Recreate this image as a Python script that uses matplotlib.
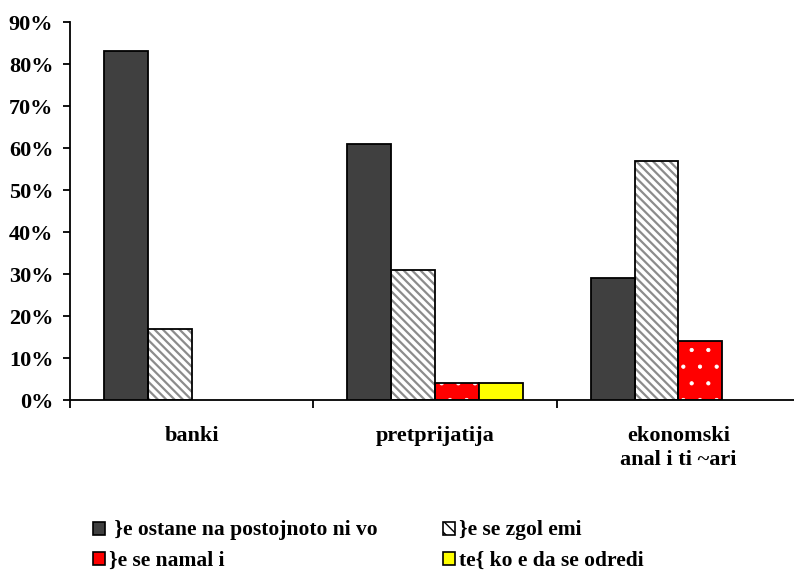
import numpy as np
import matplotlib as mpl
import matplotlib.pyplot as plt
from matplotlib.patches import Rectangle

kategorii = ['banki', 'pretprijatija', 'ekonomski\nanal i ti ~ari']
serii = [' }e ostane na postojnoto ni vo', '}e se zgol emi', '}e se namal i', 'te{ ko e da se odredi']
ostane = [83, 61, 29]
zgolemi = [17, 31, 57]
namali = [0, 4, 14]
tesko = [0, 4, 0]

plt.rcParams['font.family'] = ['Liberation Serif', 'DejaVu Serif']
plt.rcParams['font.weight'] = 'bold'

W, H = 794, 572
fig = plt.figure(figsize=(W / 100, H / 100), dpi=100)
ax = fig.add_axes([70 / W, 1 - 400 / H, 730 / W, 378 / H])

w = 0.18
x = np.arange(len(kategorii)) + 0.5
vrednosti = [ostane, zgolemi, namali, tesko]
stilovi = [
    dict(color='#404040', hatch=None, hcol=None, hlw=1),
    dict(color='white', hatch='\\\\\\\\', hcol='#8c8c8c', hlw=1.6),
    dict(color='#ff0000', hatch='.', hcol='white', hlw=0.6),
    dict(color='#ffff00', hatch=None, hcol=None, hlw=1),
]
for i, (vals, st) in enumerate(zip(vrednosti, stilovi)):
    pos = x + (i - 1.5) * w
    vals = np.array(vals)
    m = vals > 0
    if st['hatch']:
        with mpl.rc_context({'hatch.linewidth': st['hlw']}):
            ax.bar(pos[m], vals[m], w, color=st['color'], edgecolor=st['hcol'],
                   hatch=st['hatch'], linewidth=0, zorder=2)
        ax.bar(pos[m], vals[m], w, fill=False, edgecolor='black', linewidth=1.3, zorder=3)
    else:
        ax.bar(pos[m], vals[m], w, color=st['color'], edgecolor='black', linewidth=1.3, zorder=3)

ax.set_xlim(0, 3)
ax.set_ylim(0, 90)
ax.set_yticks(np.arange(0, 91, 10))
ax.set_yticklabels([f'{v}%' for v in range(0, 91, 10)], fontsize=16, fontweight='bold')
ax.set_xticks([0, 1, 2, 3])
ax.set_xticklabels([])
ax.tick_params(axis='y', length=5, width=1.3, pad=7)
ax.tick_params(axis='x', length=6, width=1.3)
for s in ['top', 'right']:
    ax.spines[s].set_visible(False)
for s in ['left', 'bottom']:
    ax.spines[s].set_linewidth(1.3)

# natpisi na kategoriite, centrirani pod grupite
for xx, lab in zip(x, kategorii):
    ax.text(xx, -6.3, lab, ha='center', va='top', fontsize=16, fontweight='bold',
            linespacing=1.25)

# legenda, vo dva reda po dve koloni
leg_x = [93, 443]
leg_y = [528, 558]
for i, (lab, st) in enumerate(zip(serii, stilovi)):
    kx = leg_x[i % 2]
    ky = leg_y[i // 2]
    h = '\\\\\\' if st['hatch'] and st['hatch'] != '.' else None
    with mpl.rc_context({'hatch.linewidth': 1.0, 'hatch.color': '#8c8c8c'}):
        fig.patches.append(Rectangle((kx / W, 1 - (ky + 7) / H), 12 / W, 13 / H,
                                     transform=fig.transFigure, facecolor=st['color'],
                                     edgecolor='black', linewidth=1.2, hatch=h))
    fig.text((kx + 16) / W, 1 - ky / H, lab, ha='left', va='center_baseline',
             fontsize=15.5, fontweight='bold')

fig.savefig('out.png', dpi=100)
